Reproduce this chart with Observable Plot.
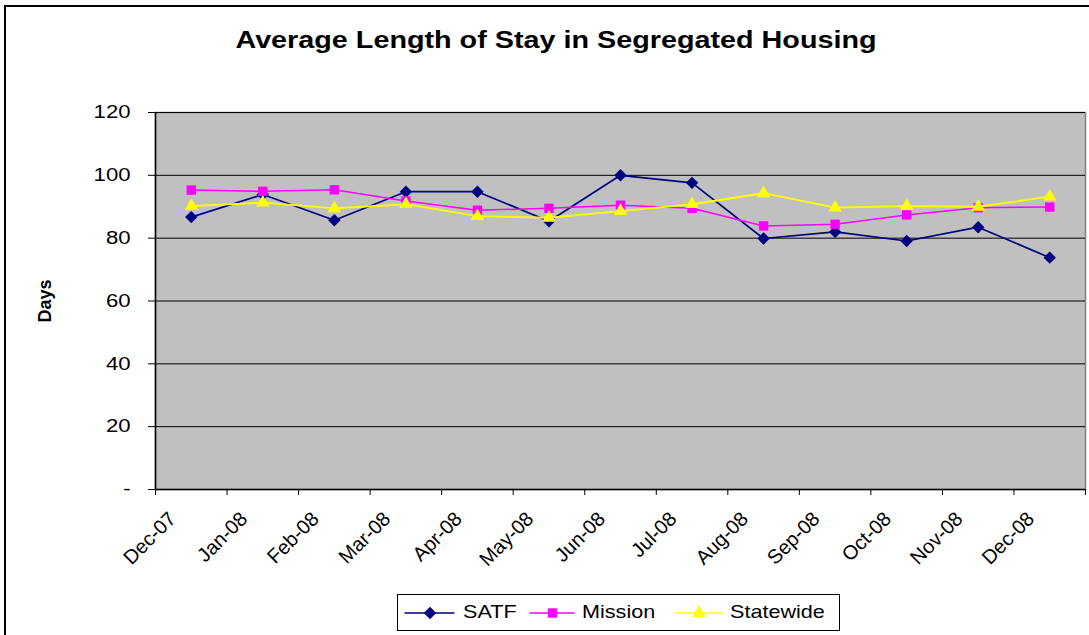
<!DOCTYPE html>
<html>
<head>
<meta charset="utf-8">
<script src="https://cdn.jsdelivr.net/npm/d3@7"></script>
<script src="https://cdn.jsdelivr.net/npm/@observablehq/plot@0.6"></script>
<style>
  body { margin: 0; background: #fff; font-family: "Liberation Sans", Arial, sans-serif; }
  #wrap { position: relative; width: 1089px; height: 635px; overflow: hidden; }
  #chart svg { position: absolute; left: 0; top: 0; }
  #border { position: absolute; left: 4px; top: 5px; width: 1100px; height: 700px; border-left: 2px solid #000; border-top: 2px solid #000; box-sizing: border-box; }
  #title { position: absolute; left: 0; width: 1112px; top: 27px; text-align: center; font-weight: bold; font-size: 23px; color: #000; transform: scaleX(1.25); transform-origin: 556px 0; white-space: nowrap; }
  #legend { position: absolute; left: 397px; top: 594px; width: 443px; height: 37px; border: 1.5px solid #000; box-sizing: border-box; background: #fff; }
  #legend svg { display: block; }
</style>
</head>
<body>
<div id="wrap">
  <div id="border"></div>
  <div id="title">Average Length of Stay in Segregated Housing</div>
  <div id="chart"></div>
  <div id="legend"></div>
</div>
<script>
const months = ["Dec-07","Jan-08","Feb-08","Mar-08","Apr-08","May-08","Jun-08","Jul-08","Aug-08","Sep-08","Oct-08","Nov-08","Dec-08"];
const satf      = [86.7, 93.9, 85.7, 94.8, 94.8, 85.4, 100.0, 97.6, 79.9, 82.0, 79.1, 83.5, 73.8];
const mission   = [95.3, 94.9, 95.4, 91.8, 88.9, 89.5, 90.5, 89.5, 83.9, 84.4, 87.4, 89.7, 89.9];
const statewide = [90.2, 91.3, 89.5, 90.8, 87.0, 86.5, 88.6, 90.8, 94.3, 89.7, 90.2, 90.0, 93.2];
const yTicks = [0, 20, 40, 60, 80, 100, 120];
const seriesNames = ["SATF", "Mission", "Statewide"];

const seriesDefs = [
  {name: seriesNames[0], values: satf, color: "#000080", symbol: "diamond2", r: 5.6, sw: 1.7},
  {name: seriesNames[1], values: mission, color: "#FF00FF", symbol: "square", r: 5.3, sw: 1.5},
  {name: seriesNames[2], values: statewide, color: "#FFFF00", symbol: "triangle", r: 5.0, sw: 1.8}
];

const rows = seriesDefs.flatMap(s => s.values.map((v, i) => ({series: s.name, i, x: i + 0.5, v})));

const marks = [
  Plot.frame({fill: "#C0C0C0", stroke: "#808080", strokeWidth: 1.5}),
  Plot.gridY(yTicks.filter(d => d > 0), {y: d => d, stroke: "#000", strokeOpacity: 1, strokeWidth: 1}),
  Plot.axisY({ticks: yTicks, tickSize: 7, tickPadding: 18, fontSize: 18, tickFormat: d => d === 0 ? "-" : d, label: null}),
  // tick marks at month boundaries
  Plot.axisX({ticks: d3.range(0, 14), tickSize: 6, tickFormat: () => "", label: null}),
  // month labels, rotated, anchored at the boundary ticks
  Plot.axisX({ticks: d3.range(0, 13), tickSize: 0, tickPadding: 12, fontSize: 20, tickRotate: -45, dx: 17, dy: 14,
    tickFormat: i => months[i] ?? "", label: null}),
  Plot.ruleX([0], {stroke: "#000", strokeWidth: 1.5}),
  Plot.ruleY([0], {stroke: "#000", strokeWidth: 1.5}),
  Plot.text(["Days"], {frameAnchor: "left", dx: -110, rotate: -90, textAnchor: "middle", fontWeight: "bold", fontSize: 18, fill: "#000"})
];
for (const s of seriesDefs) {
  const data = rows.filter(r => r.series === s.name);
  marks.push(Plot.line(data, {x: "x", y: "v", stroke: s.color, strokeWidth: s.sw}));
  marks.push(Plot.dot(data, {x: "x", y: "v", fill: s.color, stroke: "none", symbol: s.symbol, r: s.r}));
}

const chart = Plot.plot({
  width: 1089,
  height: 635,
  marginLeft: 155,
  marginRight: 4,
  marginTop: 112,
  marginBottom: 146,
  style: {background: "transparent", fontFamily: "Liberation Sans, Arial, sans-serif", color: "#000", overflow: "visible"},
  x: {type: "linear", domain: [0, 13]},
  y: {domain: [0, 120]},
  marks
});

// horizontally stretch text about its anchor (reference rendering is wider)
function stretch(textEl, s) {
  const t = textEl.getAttribute("transform");
  if (t) textEl.setAttribute("transform", t + ` scale(${s},1)`);
  else {
    const x = +textEl.getAttribute("x") || 0, y = +textEl.getAttribute("y") || 0;
    textEl.setAttribute("x", 0); textEl.setAttribute("y", 0);
    textEl.setAttribute("transform", `translate(${x},${y}) scale(${s},1)`);
  }
}
chart.querySelectorAll('g[aria-label="y-axis tick label"] text').forEach(t => stretch(t, 1.23));
document.getElementById("chart").appendChild(chart);

// Legend drawn with Plot using the same symbols
const lineX1 = [6.5, 131.5, 276.5];
const lineX2 = [56.5, 176.5, 324.5];
const textX = [64.5, 183.5, 331.5];
const legendRows = seriesDefs.map((s, k) => ({name: s.name, k}));
const legend = Plot.plot({
  width: 440, height: 34, margin: 0,
  x: {type: "identity", axis: null}, y: {type: "identity", axis: null},
  style: {background: "transparent", fontFamily: "Liberation Sans, Arial, sans-serif", overflow: "visible"},
  marks: [
    ...seriesDefs.map((s, k) => Plot.ruleY([17.5], {x1: lineX1[k], x2: lineX2[k], stroke: s.color, strokeWidth: 1.6})),
    ...seriesDefs.map((s, k) => Plot.dot([0], {x: () => (lineX1[k] + lineX2[k]) / 2, y: () => 17.5, symbol: s.symbol, r: s.r, fill: s.color, stroke: "none"})),
    Plot.text(legendRows, {x: d => textX[d.k], y: () => 16.5, text: "name", textAnchor: "start", fontSize: 18, fill: "#000"})
  ]
});
legend.querySelectorAll('text').forEach(t => stretch(t, 1.2));
document.getElementById("legend").appendChild(legend);
</script>
</body>
</html>
